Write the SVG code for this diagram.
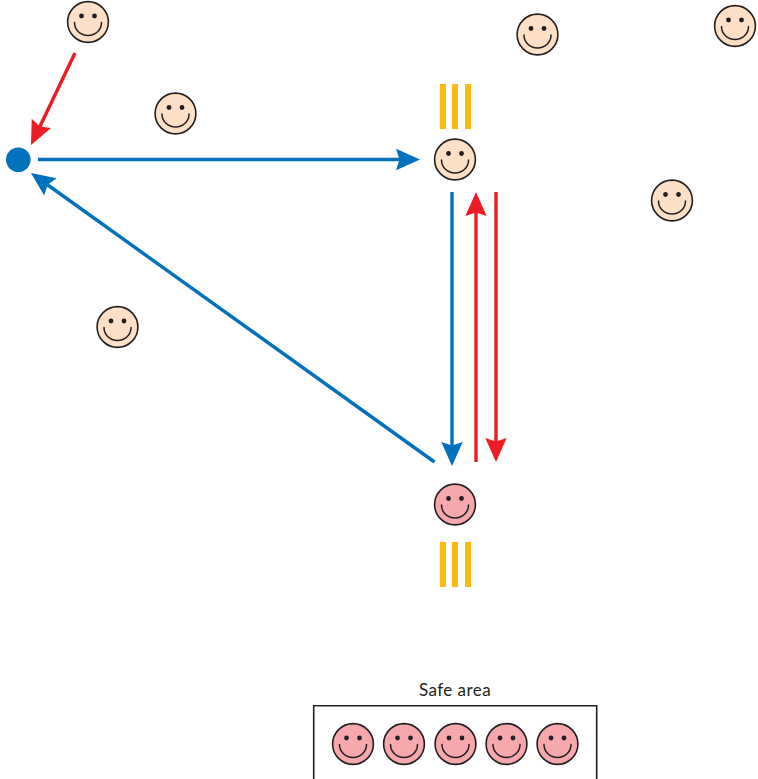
<svg xmlns="http://www.w3.org/2000/svg" width="758" height="779" viewBox="0 0 758 779">
<style>
.bg{stroke:#231f20;stroke-width:1.6}
.calm{fill:#fde0c5}
.safe{fill:#f7a8ac}
.line{fill:none;stroke:#231f20;stroke-width:1.5;stroke-linecap:round}
.eye{fill:#231f20}
.bar{fill:#fdb813}
.blue{stroke:#0071bc;stroke-width:3.4;fill:none}
.red{stroke:#ed1c24;stroke-width:3.4;fill:none}
.label{font-family:Lato,"Open Sans","Noto Sans",sans-serif;font-size:17px;letter-spacing:.45px;fill:#231f20}
</style>
<defs>
<g id="face">
<circle class="bg" r="20.4"/>
<circle class="eye" cx="-6.5" cy="-6" r="2.4"/>
<circle class="eye" cx="6.5" cy="-6" r="2.4"/>
<path class="line" d="M-13.5,0.5C-13.5,8 -7.5,13.5 0,13.5C7.5,13.5 13.5,8 13.5,0.5"/>
</g>
<marker id="ab" markerUnits="userSpaceOnUse" markerWidth="26" markerHeight="24" viewBox="0 -12 26 24" refX="5" refY="0" orient="auto"><path d="M0,-10.7L24,0L0,10.7L3.5,0Z" fill="#0071bc"/></marker>
<marker id="ar" markerUnits="userSpaceOnUse" markerWidth="26" markerHeight="24" viewBox="0 -12 26 24" refX="5" refY="0" orient="auto"><path d="M0,-10.7L24,0L0,10.7L3.5,0Z" fill="#ed1c24"/></marker>
</defs>
<g id="connectors">
<line class="red" x1="75" y1="53" x2="39.2" y2="127.9" marker-end="url(#ar)"/>
<line class="blue" x1="38" y1="159.5" x2="401" y2="159.5" marker-end="url(#ab)"/>
<line class="blue" x1="434.5" y1="462" x2="46.4" y2="184" marker-end="url(#ab)"/>
<line class="blue" x1="452" y1="192" x2="452" y2="447" marker-end="url(#ab)"/>
<line class="red" x1="476" y1="462" x2="476" y2="211" marker-end="url(#ar)"/>
<line class="red" x1="496" y1="192" x2="496" y2="443" marker-end="url(#ar)"/>
</g>
<circle id="dot" cx="18.3" cy="159.8" r="12.3" fill="#0071bc"/>
<g id="face1"><use href="#face" class="calm" x="88" y="22"/></g>
<g id="face2"><use href="#face" class="calm" x="175.5" y="113.5"/></g>
<g id="face3"><use href="#face" class="calm" x="537.5" y="34.5"/></g>
<g id="face4"><use href="#face" class="calm" x="735" y="26"/></g>
<g id="face5"><use href="#face" class="calm" x="672" y="200.5"/></g>
<g id="face6"><use href="#face" class="calm" x="117.5" y="327"/></g>
<g id="face7"><use href="#face" class="calm" x="455" y="159.5"/></g>
<g id="face8"><use href="#face" class="safe" x="455" y="504.5"/></g>
<g id="bars-top"><rect class="bar" x="440" y="84" width="6" height="45"/><rect class="bar" x="452" y="84" width="6" height="45"/><rect class="bar" x="465" y="84" width="6" height="45"/></g>
<g id="bars-bottom"><rect class="bar" x="440" y="542" width="6" height="45"/><rect class="bar" x="452" y="542" width="6" height="45"/><rect class="bar" x="465" y="542" width="6" height="45"/></g>
<g id="safe-area">
<text class="label" x="455" y="695.5" text-anchor="middle">Safe area</text>
<path d="M313.7,779V705.7H596.7V779" fill="none" stroke="#231f20" stroke-width="1.6"/>
<g id="safe1"><use href="#face" class="safe" x="353" y="744"/></g>
<g id="safe2"><use href="#face" class="safe" x="404" y="744"/></g>
<g id="safe3"><use href="#face" class="safe" x="455.5" y="744"/></g>
<g id="safe4"><use href="#face" class="safe" x="506.5" y="744"/></g>
<g id="safe5"><use href="#face" class="safe" x="557.5" y="744"/></g>
</g>
</svg>
